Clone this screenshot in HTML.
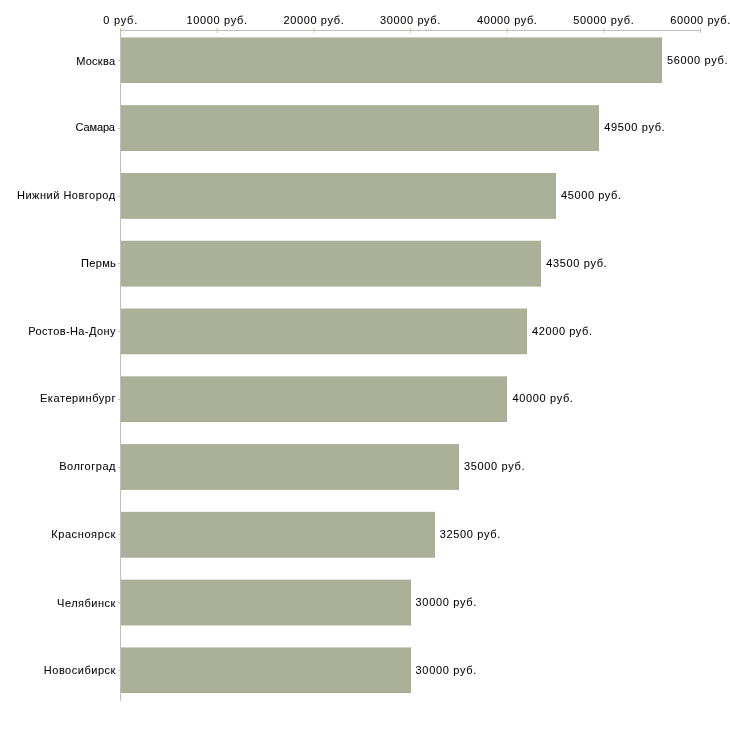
<!DOCTYPE html><html><head><meta charset="utf-8"><style>html,body{margin:0;padding:0;background:#fff;width:730px;height:730px;overflow:hidden}svg{display:block;will-change:transform}text{font-family:"Liberation Sans",sans-serif;font-size:11px;fill:#000;stroke:#000;stroke-width:0.06px}</style></head><body>
<svg width="730" height="730" viewBox="0 0 730 730">
<rect x="121" y="37.40" width="541.00" height="45.6" fill="#abb199"/>
<rect x="121" y="82.00" width="541.00" height="1" fill="#a6ad93"/>
<rect x="661.00" y="37.40" width="1" height="45.6" fill="#a6ad93"/>
<rect x="121" y="105.18" width="478.00" height="45.6" fill="#abb199"/>
<rect x="121" y="149.78" width="478.00" height="1" fill="#a6ad93"/>
<rect x="598.00" y="105.18" width="1" height="45.6" fill="#a6ad93"/>
<rect x="121" y="172.96" width="435.00" height="45.6" fill="#abb199"/>
<rect x="121" y="217.56" width="435.00" height="1" fill="#a6ad93"/>
<rect x="555.00" y="172.96" width="1" height="45.6" fill="#a6ad93"/>
<rect x="121" y="240.74" width="420.00" height="45.6" fill="#abb199"/>
<rect x="121" y="285.34" width="420.00" height="1" fill="#a6ad93"/>
<rect x="540.00" y="240.74" width="1" height="45.6" fill="#a6ad93"/>
<rect x="121" y="308.52" width="406.00" height="45.6" fill="#abb199"/>
<rect x="121" y="353.12" width="406.00" height="1" fill="#a6ad93"/>
<rect x="526.00" y="308.52" width="1" height="45.6" fill="#a6ad93"/>
<rect x="121" y="376.30" width="386.00" height="45.6" fill="#abb199"/>
<rect x="121" y="420.90" width="386.00" height="1" fill="#a6ad93"/>
<rect x="506.00" y="376.30" width="1" height="45.6" fill="#a6ad93"/>
<rect x="121" y="444.08" width="338.00" height="45.6" fill="#abb199"/>
<rect x="121" y="488.68" width="338.00" height="1" fill="#a6ad93"/>
<rect x="458.00" y="444.08" width="1" height="45.6" fill="#a6ad93"/>
<rect x="121" y="511.86" width="314.00" height="45.6" fill="#abb199"/>
<rect x="121" y="556.46" width="314.00" height="1" fill="#a6ad93"/>
<rect x="434.00" y="511.86" width="1" height="45.6" fill="#a6ad93"/>
<rect x="121" y="579.64" width="290.00" height="45.6" fill="#abb199"/>
<rect x="121" y="624.24" width="290.00" height="1" fill="#a6ad93"/>
<rect x="410.00" y="579.64" width="1" height="45.6" fill="#a6ad93"/>
<rect x="121" y="647.42" width="290.00" height="45.6" fill="#abb199"/>
<rect x="121" y="692.02" width="290.00" height="1" fill="#a6ad93"/>
<rect x="410.00" y="647.42" width="1" height="45.6" fill="#a6ad93"/>
<rect x="120" y="30" width="581" height="1" fill="#bebebe"/>
<rect x="120" y="30" width="1" height="671" fill="#bebebe"/>
<rect x="120.00" y="28" width="1" height="2" fill="#c8c8a0"/>
<rect x="216.67" y="28" width="1" height="5" fill="#c8c8a0"/>
<rect x="313.33" y="28" width="1" height="5" fill="#c8c8a0"/>
<rect x="410.00" y="28" width="1" height="5" fill="#c8c8a0"/>
<rect x="506.67" y="28" width="1" height="5" fill="#c8c8a0"/>
<rect x="603.33" y="28" width="1" height="5" fill="#c8c8a0"/>
<rect x="700.00" y="28" width="1" height="5" fill="#c8c8a0"/>
<rect x="118" y="60" width="2" height="1" fill="#c8c8a0"/>
<rect x="118" y="128" width="2" height="1" fill="#c8c8a0"/>
<rect x="118" y="196" width="2" height="1" fill="#c8c8a0"/>
<rect x="118" y="263" width="2" height="1" fill="#c8c8a0"/>
<rect x="118" y="331" width="2" height="1" fill="#c8c8a0"/>
<rect x="118" y="399" width="2" height="1" fill="#c8c8a0"/>
<rect x="118" y="467" width="2" height="1" fill="#c8c8a0"/>
<rect x="118" y="534" width="2" height="1" fill="#c8c8a0"/>
<rect x="118" y="602" width="2" height="1" fill="#c8c8a0"/>
<rect x="118" y="670" width="2" height="1" fill="#c8c8a0"/>
<text x="103.16" y="24" textLength="34.03" lengthAdjust="spacing">0 руб.</text>
<text x="186.42" y="24" textLength="60.60" lengthAdjust="spacing">10000 руб.</text>
<text x="283.39" y="24" textLength="60.37" lengthAdjust="spacing">20000 руб.</text>
<text x="380.07" y="24" textLength="60.19" lengthAdjust="spacing">30000 руб.</text>
<text x="477.05" y="24" textLength="59.77" lengthAdjust="spacing">40000 руб.</text>
<text x="573.28" y="24" textLength="60.47" lengthAdjust="spacing">50000 руб.</text>
<text x="670.23" y="24" textLength="60.03" lengthAdjust="spacing">60000 руб.</text>
<text x="76.16" y="65" textLength="38.91" lengthAdjust="spacing">Москва</text>
<text x="75.54" y="131" textLength="39.45" lengthAdjust="spacing">Самара</text>
<text x="17.03" y="199" textLength="98.05" lengthAdjust="spacing">Нижний Новгород</text>
<text x="81.03" y="267" textLength="34.73" lengthAdjust="spacing">Пермь</text>
<text x="28.16" y="335" textLength="87.23" lengthAdjust="spacing">Ростов-На-Дону</text>
<text x="39.92" y="402" textLength="75.49" lengthAdjust="spacing">Екатеринбург</text>
<text x="59.14" y="470" textLength="56.29" lengthAdjust="spacing">Волгоград</text>
<text x="51.13" y="538" textLength="64.20" lengthAdjust="spacing">Красноярск</text>
<text x="57.10" y="607" textLength="58.12" lengthAdjust="spacing">Челябинск</text>
<text x="43.79" y="674" textLength="71.55" lengthAdjust="spacing">Новосибирск</text>
<text x="666.98" y="64" textLength="60.58" lengthAdjust="spacing">56000 руб.</text>
<text x="604.33" y="131" textLength="60.30" lengthAdjust="spacing">49500 руб.</text>
<text x="561.01" y="199" textLength="60.03" lengthAdjust="spacing">45000 руб.</text>
<text x="546.33" y="267" textLength="60.30" lengthAdjust="spacing">43500 руб.</text>
<text x="532.01" y="335" textLength="60.03" lengthAdjust="spacing">42000 руб.</text>
<text x="512.53" y="402" textLength="60.36" lengthAdjust="spacing">40000 руб.</text>
<text x="464.03" y="470" textLength="60.52" lengthAdjust="spacing">35000 руб.</text>
<text x="439.71" y="538" textLength="60.62" lengthAdjust="spacing">32500 руб.</text>
<text x="415.58" y="606" textLength="60.64" lengthAdjust="spacing">30000 руб.</text>
<text x="415.58" y="674" textLength="60.64" lengthAdjust="spacing">30000 руб.</text>
</svg></body></html>
